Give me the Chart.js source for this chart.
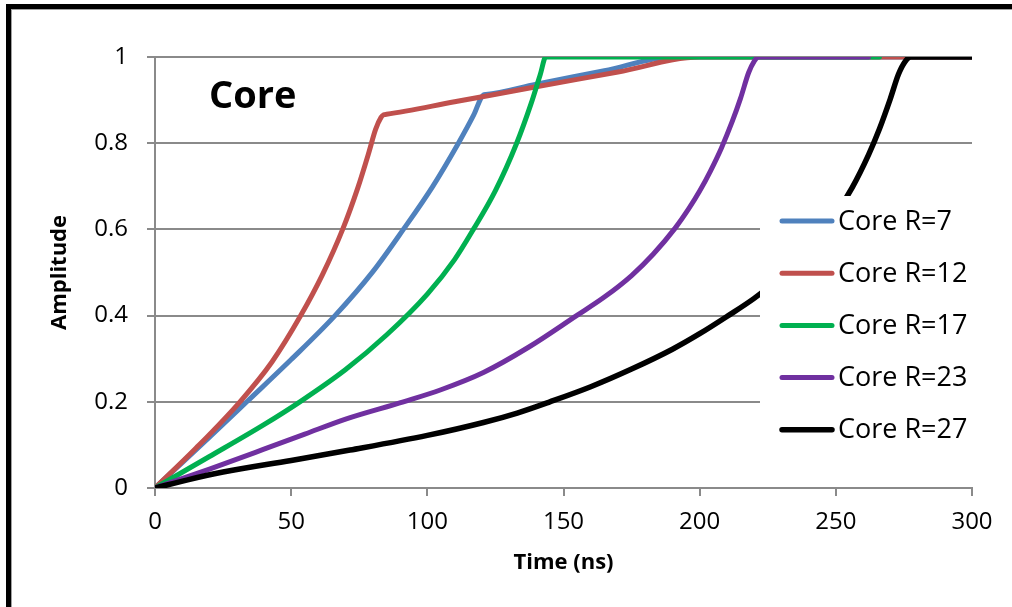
<!DOCTYPE html>
<html>
<head>
<meta charset="utf-8">
<script src="https://cdn.jsdelivr.net/npm/chart.js@4.4.0/dist/chart.umd.min.js"></script>
<style>
html, body { margin: 0; padding: 0; background: #fff; overflow: hidden; }
#wrap { position: relative; width: 1012px; height: 607px; }
#frame { position: absolute; left: 6px; top: 4px; width: 1100px; height: 700px;
         border-left: 5px solid #000; border-top: 5px solid #000; pointer-events: none; }
#frame::after { content: ''; position: absolute; left: 0; top: 0; right: 0; bottom: 0;
         border-left: 1px solid #a0a0a0; border-top: 1px solid #a0a0a0; }
</style>
</head>
<body>
<div id="wrap">
  <canvas id="coreChart" width="1012" height="607"></canvas>
  <div id="frame"></div>
</div>
<script>
// series names and colours
var seriesNames = ["Core R=7", "Core R=12", "Core R=17", "Core R=23", "Core R=27"];
var seriesColors = ["#4F81BD", "#C0504D", "#00B050", "#7030A0", "#000000"];

// values: time (ns) / amplitude
var r7Time = [0, 10, 20, 33.7, 50, 66.1, 80, 91.2, 102, 111.4, 117, 120.6, 121.5, 140, 165, 190, 191, 300];
var r7Amp  = [0, 0.059, 0.118, 0.2, 0.298, 0.4, 0.502, 0.6, 0.7, 0.8, 0.865, 0.912, 0.913, 0.937, 0.968, 1, 1, 1];

var r12Time = [0, 15, 31.2, 43, 53.5, 61.5, 68.9, 74.5, 78.5, 81, 83, 84, 85, 110, 140, 170, 200, 201, 300];
var r12Amp  = [0, 0.092, 0.2, 0.293, 0.4, 0.495, 0.6, 0.697, 0.778, 0.832, 0.86, 0.866, 0.867, 0.896, 0.931, 0.965, 1, 1, 1];

var r17Time = [0, 20, 40, 53.2, 70, 85, 100, 110, 116.9, 125, 132.8, 138, 141.5, 143.5, 144.5, 266];
var r17Amp  = [0, 0.073, 0.147, 0.2, 0.275, 0.355, 0.45, 0.53, 0.6, 0.69, 0.8, 0.89, 0.96, 1, 1, 1];

var r23Time = [0, 20, 40, 55, 70, 91.2, 105, 120.6, 137, 154.8, 165, 175, 183, 191, 196, 200, 204, 208, 212, 215, 218, 220, 221.5, 222.5, 262];
var r23Amp  = [0, 0.044, 0.09, 0.125, 0.16, 0.2, 0.228, 0.268, 0.326, 0.4, 0.443, 0.493, 0.543, 0.603, 0.648, 0.689, 0.736, 0.789, 0.851, 0.904, 0.964, 0.99, 1, 1, 1];

var r27Time = [0, 12, 25, 50, 71.6, 100, 120.6, 133, 145, 160, 175, 190, 200, 210, 220, 230, 240, 250, 256, 262, 266, 270, 273, 275.5, 277.5, 278.5, 300];
var r27Amp  = [0, 0.019, 0.037, 0.064, 0.088, 0.122, 0.152, 0.174, 0.2, 0.235, 0.276, 0.322, 0.358, 0.398, 0.44, 0.49, 0.553, 0.636, 0.697, 0.773, 0.833, 0.903, 0.96, 0.99, 1, 1, 1];

// axis ticks
var xTicks = [0, 50, 100, 150, 200, 250, 300];
var yTicks = [0, 0.2, 0.4, 0.6, 0.8, 1];
var yTickLabels = ["0", "0.2", "0.4", "0.6", "0.8", "1"];

function toPoints(t, a) {
    return t.map(function (x, i) { return { x: x, y: a[i] }; });
}

var allTimes = [r7Time, r12Time, r17Time, r23Time, r27Time];
var allAmps = [r7Amp, r12Amp, r17Amp, r23Amp, r27Amp];

var datasets = seriesNames.map(function (name, i) {
    return {
        label: name,
        data: toPoints(allTimes[i], allAmps[i]),
        borderColor: seriesColors[i],
        backgroundColor: seriesColors[i],
        borderWidth: i === 4 ? 5.5 : 5,
        borderCapStyle: 'round',
        borderJoinStyle: 'round',
        pointRadius: 0,
        showLine: true,
        cubicInterpolationMode: 'monotone',
        order: 5 - i   // last series ends up on top, like the original
    };
});

// "Core" label and the legend box sitting inside the plot
var overlay = {
    id: 'overlay',
    afterDatasetsDraw: function (chart) {
        var c = chart.ctx;
        c.save();
        c.fillStyle = '#fff';
        c.fillRect(760, 196, 252, 262);
        chart.data.datasets.forEach(function (ds, i) {
            var y = 221 + i * 52.2;
            c.strokeStyle = ds.borderColor;
            c.lineWidth = ds.borderWidth;
            c.lineCap = 'round';
            c.beginPath();
            c.moveTo(782, y);
            c.lineTo(832, y);
            c.stroke();
            c.fillStyle = '#000';
            c.font = '27px "Open Sans"';
            c.textBaseline = 'middle';
            c.textAlign = 'left';
            c.fillText(ds.label, 838, y + 1);
        });
        c.fillStyle = '#000';
        c.font = 'bold 38px "Open Sans"';
        c.textBaseline = 'alphabetic';
        c.fillText('Core', 209, 108);
        c.restore();
    }
};

var ctx = document.getElementById('coreChart').getContext('2d');
var coreChart = new Chart(ctx, {
    type: 'scatter',
    data: { datasets: datasets },
    options: {
        responsive: false,
        animation: false,
        layout: { padding: { top: 57, right: 40, left: 0, bottom: 0 } },
        plugins: {
            legend: { display: false },
            tooltip: { enabled: false }
        },
        scales: {
            x: {
                type: 'linear',
                min: 0,
                max: 300,
                afterFit: function (scale) { scale.height = 119; },
                afterBuildTicks: function (scale) {
                    scale.ticks = xTicks.map(function (v) { return { value: v }; });
                },
                grid: { drawOnChartArea: false, drawTicks: true, tickLength: 8, color: '#8a8a8a', lineWidth: 2 },
                border: { color: '#8a8a8a', width: 2 },
                ticks: { color: '#000', padding: 12, maxRotation: 0, font: { family: 'Open Sans', size: 24 } },
                title: {
                    display: true,
                    text: 'Time (ns)',
                    color: '#000',
                    font: { family: 'Open Sans', size: 22, weight: 'bold' },
                    padding: { top: 0, bottom: 31 }
                }
            },
            y: {
                min: 0,
                max: 1,
                afterFit: function (scale) { scale.width = 155; },
                afterBuildTicks: function (scale) {
                    scale.ticks = yTicks.map(function (v) { return { value: v }; });
                },
                grid: { color: '#8a8a8a', lineWidth: 2, tickLength: 8 },
                border: { color: '#8a8a8a', width: 2 },
                ticks: {
                    color: '#000',
                    padding: 19,
                    font: { family: 'Open Sans', size: 24 },
                    callback: function (value, index) { return yTickLabels[index]; }
                },
                title: {
                    display: true,
                    text: 'Amplitude',
                    color: '#000',
                    font: { family: 'Open Sans', size: 22, weight: 'bold' },
                    padding: { top: 47, bottom: 0 }
                }
            }
        }
    },
    plugins: [overlay]
});
</script>
</body>
</html>
